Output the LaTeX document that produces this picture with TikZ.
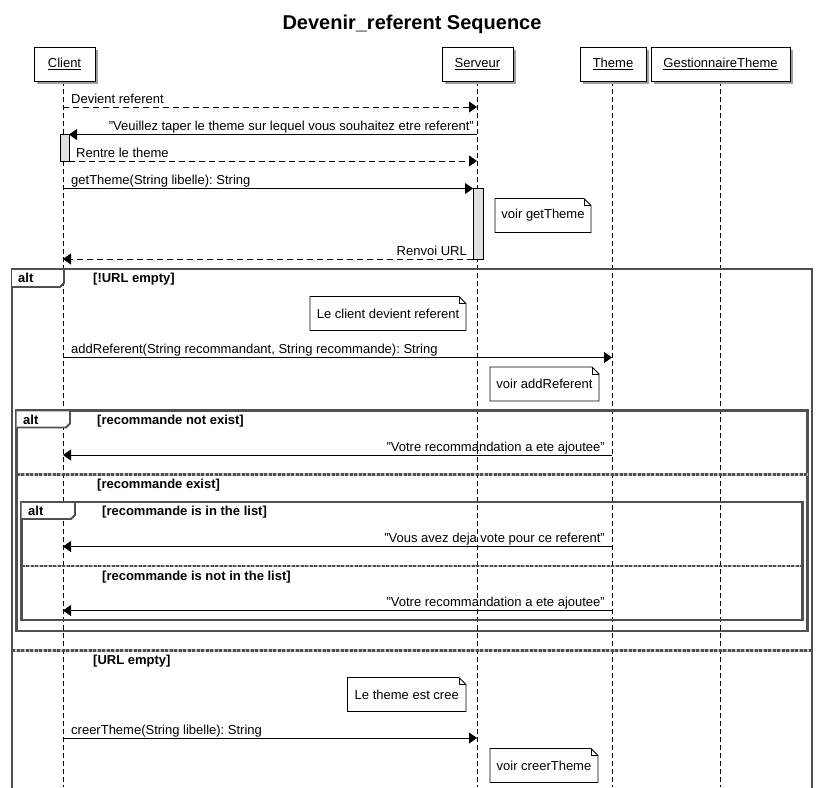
\documentclass[tikz,border=0pt]{standalone}
\usepackage{fontspec}
\setmainfont{Liberation Sans}
\usetikzlibrary{arrows.meta,calc,shadows}
\definecolor{framec}{HTML}{505050}
\definecolor{actc}{HTML}{E0E0E0}
\frenchspacing
\newcommand\dognote[6]{% name, x1,y1,x2,y2,text
  \draw[notebox, fill=white] (#2,#3) -- (#4-7,#3) -- (#4,#3+7) -- (#4,#5) -- (#2,#5) -- cycle;
  \draw[notebox] (#4-7,#3) -- (#4-7,#3+7) -- (#4,#3+7);
  \node (#1) at ({(#2+#4)/2},{(#3+#5)/2}) {#6};
}
\begin{document}
\begin{tikzpicture}[x=1pt,y=-1pt,
  every node/.style={font=\fontsize{13}{15}\selectfont, inner sep=0pt},
  part/.style={draw=black, fill=white, line width=0.9pt, minimum height=34pt,
    drop shadow={shadow xshift=3pt, shadow yshift=-3pt, fill=gray!75, opacity=1}},
  life/.style={draw=black, line width=0.8pt, dash pattern=on 5pt off 3pt},
  msg/.style={draw=black, line width=0.8pt, -{Triangle[length=8pt,width=11pt]}},
  rmsg/.style={msg, dash pattern=on 6pt off 4pt},
  lbl/.style={anchor=base west},
  rlbl/.style={anchor=base east},
  act/.style={draw=black, fill=actc, line width=0.8pt},
  notebox/.style={line width=0.8pt},
  frm/.style={draw=framec, line width=2.3pt},
  tab/.style={draw=framec, line width=1.8pt, fill=white},
  grd/.style={anchor=base west, font=\fontsize{13}{15}\selectfont\bfseries},
  sepbase/.style={draw=gray!50, line width=2.2pt},
  sepdash/.style={draw=framec, line width=2.2pt, dash pattern=on 3pt off 1.5pt},
]
\path[use as bounding box, clip] (0,0) rectangle (821,787);
\fill[white] (0,0) rectangle (821,787);

% title
\node[font=\fontsize{20}{24}\selectfont\bfseries] (title) at (412,24.5) {Devenir\_referent Sequence};

% lifelines
\coordinate (cE) at (63,787);
\coordinate (sE) at (477,787);
\coordinate (tE) at (612,787);
\coordinate (gE) at (720,787);
\draw[life] (63,81) -- (cE);
\draw[life] (477,81) -- (sE);
\draw[life] (612,81) -- (tE);
\draw[life] (720,81) -- (gE);

% participants
\node[part, minimum width=61pt] (client) at (64.5,64) {\underline{Client}};
\node[part, minimum width=71pt] (serveur) at (477.5,64) {\underline{Serveur}};
\node[part, minimum width=66pt] (theme) at (613,64) {\underline{Theme}};
\node[part, minimum width=139pt] (gest) at (720.5,64) {\underline{GestionnaireTheme}};

% activations
\node[act, minimum width=9pt, minimum height=27pt] (actC) at (64.5,147.5) {};
\node[act, minimum width=10pt, minimum height=71pt] (actS) at (478,223.5) {};

% messages
\coordinate (m1a) at (63,107); \coordinate (m1b) at (477,107);
\draw[rmsg] (m1a) -- (m1b);
\node[lbl] (l1) at (71,103) {Devient referent};

\coordinate (m2a) at (477,134.5); \coordinate (m2b) at (69,134.5);
\draw[msg] (m2a) -- (m2b);
\node[rlbl] (l2) at (474,130.5) {"Veuillez taper le theme sur lequel vous souhaitez etre referent"};

\coordinate (m3a) at (69,161); \coordinate (m3b) at (477,161);
\draw[rmsg] (m3a) -- (m3b);
\node[lbl] (l3) at (76,157) {Rentre le theme};

\coordinate (m4a) at (63,188.5); \coordinate (m4b) at (473,188.5);
\draw[msg] (m4a) -- (m4b);
\node[lbl] (l4) at (71,184.5) {getTheme(String libelle): String};

\coordinate (m5a) at (473,259); \coordinate (m5b) at (63,259);
\draw[rmsg] (m5a) -- (m5b);
\node[rlbl] (l5) at (467,255) {Renvoi URL};

% notes
\dognote{n1}{495}{198.5}{591}{232.5}{voir getTheme}

% outer alt
\draw[frm] (12,269) rectangle (812,900);
\draw[tab] (12,269) -- (64,269) -- (64,283) -- (60,287) -- (12,287);
\node[grd] (alt1) at (18,282.5) {alt};
\node[grd] (g1) at (93,282.5) {[!URL empty]};

\dognote{n2}{310}{296.5}{466}{330.5}{Le client devient referent}

\coordinate (m6a) at (63,357.5); \coordinate (m6b) at (612,357.5);
\draw[msg] (m6a) -- (m6b);
\node[lbl] (l6) at (71,353.5) {addReferent(String recommandant, String recommande): String};

\dognote{n3}{490}{367}{599}{401}{voir addReferent}

% inner alt 1
\draw[frm] (16.5,410.5) rectangle (807.5,631);
\draw[tab] (16.5,410.5) -- (70,410.5) -- (70,423.5) -- (66,427.5) -- (16.5,427.5);
\node[grd] (alt2) at (23,424) {alt};
\node[grd] (g2) at (97,424) {[recommande not exist]};

\coordinate (m7a) at (612,455); \coordinate (m7b) at (63,455);
\draw[msg] (m7a) -- (m7b);
\node[rlbl] (l7) at (605,451) {"Votre recommandation a ete ajoutee"};

\coordinate (s1a) at (16.5,474.5); \coordinate (s1b) at (807.5,474.5);
\draw[sepbase] (s1a) -- (s1b);
\draw[sepdash] (s1a) -- (s1b);
\node[grd] (g3) at (97,488.5) {[recommande exist]};

% inner alt 2
\draw[frm] (21.5,502) rectangle (802.5,620);
\draw[tab] (21.5,502) -- (75,502) -- (75,515) -- (71,519) -- (21.5,519);
\node[grd] (alt3) at (28,515.5) {alt};
\node[grd] (g4) at (102,515.5) {[recommande is in the list]};

\coordinate (m8a) at (612,546.5); \coordinate (m8b) at (63,546.5);
\draw[msg] (m8a) -- (m8b);
\node[rlbl] (l8) at (605,542.5) {"Vous avez deja vote pour ce referent"};

\coordinate (s2a) at (21.5,566); \coordinate (s2b) at (802.5,566);
\draw[sepbase] (s2a) -- (s2b);
\draw[sepdash] (s2a) -- (s2b);
\node[grd] (g5) at (102,580) {[recommande is not in the list]};

\coordinate (m9a) at (612,610.5); \coordinate (m9b) at (63,610.5);
\draw[msg] (m9a) -- (m9b);
\node[rlbl] (l9) at (605,606.5) {"Votre recommandation a ete ajoutee"};

% outer separator
\coordinate (s3a) at (12,650.5); \coordinate (s3b) at (812,650.5);
\draw[sepbase] (s3a) -- (s3b);
\draw[sepdash] (s3a) -- (s3b);
\node[grd] (g6) at (93,664.5) {[URL empty]};

\dognote{n4}{347.5}{677.5}{466}{711.5}{Le theme est cree}

\coordinate (m10a) at (63,738); \coordinate (m10b) at (477,738);
\draw[msg] (m10a) -- (m10b);
\node[lbl] (l10) at (71,734) {creerTheme(String libelle): String};

\dognote{n5}{490}{748.5}{598}{782.5}{voir creerTheme}
\end{tikzpicture}
\end{document}
